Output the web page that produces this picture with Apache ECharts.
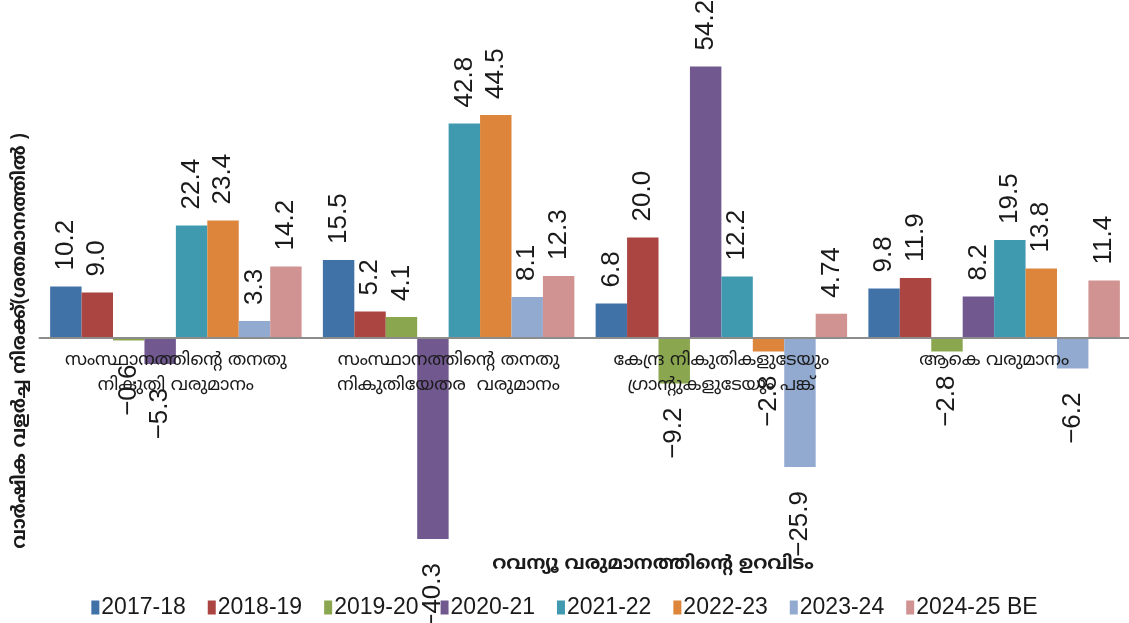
<!DOCTYPE html>
<html>
<head>
<meta charset="utf-8">
<script src="https://cdn.jsdelivr.net/npm/echarts@6/dist/echarts.min.js"></script>
<style>
html,body{margin:0;padding:0;background:#fff;}
#chart{width:1129px;height:623px;}
</style>
</head>
<body>
<div id="chart"></div>
<script>
const categories = [
  'സംസ്ഥാനത്തിന്റെ തനതു\nനികുതി വരുമാനം',
  'സംസ്ഥാനത്തിന്റെ തനതു\nനികുതിയേതര  വരുമാനം',
  'കേന്ദ്ര നികുതികളുടേയും\nഗ്രാന്റുകളുടേയും പങ്ക്',
  'ആകെ വരുമാനം'
];
const seriesNames = ['2017-18','2018-19','2019-20','2020-21','2021-22','2022-23','2023-24','2024-25 BE'];
const v2017_18 = [10.2, 15.5, 6.8, 9.8];
const v2018_19 = [9.0, 5.2, 20.0, 11.9];
const v2019_20 = [-0.6, 4.1, -9.2, -2.8];
const v2020_21 = [-5.3, -40.3, 54.2, 8.2];
const v2021_22 = [22.4, 42.8, 12.2, 19.5];
const v2022_23 = [23.4, 44.5, -2.8, 13.8];
const v2023_24 = [3.3, 8.1, -25.9, -6.2];
const v2024_25 = [14.2, 12.3, 4.74, 11.4];
const yAxisTitle = 'വാർഷിക വളർച്ച നിരക്ക്(ശതമാനത്തിൽ )';
const xAxisTitle = 'റവന്യൂ വരുമാനത്തിന്റെ ഉറവിടം';

const allValues = [v2017_18, v2018_19, v2019_20, v2020_21, v2021_22, v2022_23, v2023_24, v2024_25];
const colors = ['#4072A8','#AA4542','#8AA74F','#71598F','#3F9AB0','#DC853B','#93AAD0','#D09392'];
const mlFont = "'Noto Sans Malayalam','Manjari','Noto Sans','DejaVu Sans',sans-serif";
const numFont = "'Liberation Sans Narrow','Arial Narrow','Liberation Sans',Arial,sans-serif";

function fmt(v){
  const t = v*10;
  const s = Math.abs(t - Math.round(t)) < 1e-9 ? v.toFixed(1) : String(v);
  return s.replace('-', '\u2212');
}

const series = seriesNames.map((name, i) => ({
  name: name,
  type: 'bar',
  barGap: '0%',
  barCategoryGap: '7.8%',
  itemStyle: { color: colors[i] },
  label: {
    show: true,
    rotate: 90,
    position: 'top',
    distance: 16,
    align: 'left',
    verticalAlign: 'middle',
    fontFamily: numFont,
    fontSize: 26,
    color: '#1a1a1a',
    formatter: p => fmt(p.value)
  },
  data: allValues[i].map(v => v < 0
    ? { value: v, label: { position: 'bottom', align: 'right', distance: 24 } }
    : { value: v })
}));

const yMin = -50, yMax = 60, gridTop = 37.5, gridHeight = 550;
const zeroOffset = gridHeight * (0 - yMin) / (yMax - yMin);

const chart = echarts.init(document.getElementById('chart'), null, { renderer: 'canvas' });
chart.setOption({
  animation: false,
  backgroundColor: '#ffffff',
  grid: { left: 39.5, width: 1091, top: gridTop, height: gridHeight, containLabel: false, outerBoundsMode: 'none' },
  xAxis: {
    type: 'category',
    data: categories,
    position: 'bottom',
    offset: -zeroOffset,
    z: 5,
    axisLine: { show: true, onZero: false, lineStyle: { color: '#8c8c8c', width: 2 } },
    axisTick: { show: false },
    axisLabel: {
      interval: 0,
      margin: 12,
      fontFamily: mlFont,
      fontSize: 18,
      lineHeight: 25,
      color: '#1a1a1a'
    }
  },
  yAxis: {
    type: 'value',
    min: yMin,
    max: yMax,
    interval: 10,
    axisLine: { show: false },
    axisTick: { show: false },
    axisLabel: { show: false },
    splitLine: { show: false }
  },
  legend: {
    bottom: -1,
    left: 'center',
    itemWidth: 8,
    itemHeight: 14,
    itemGap: 22,
    icon: 'rect',
    textStyle: { fontFamily: "'Liberation Sans',Arial,sans-serif", fontSize: 23, color: '#1a1a1a', padding: [0,0,0,-3] },
    data: seriesNames
  },
  graphic: [
    {
      type: 'text',
      x: 653, y: 565,
      style: { text: xAxisTitle, font: 'bold 19px ' + mlFont, fill: '#1a1a1a', textAlign: 'center', textVerticalAlign: 'middle' }
    },
    {
      type: 'text',
      x: 21, y: 341,
      rotation: Math.PI / 2,
      style: { text: yAxisTitle, font: 'bold 18.5px ' + mlFont, fill: '#1a1a1a', textAlign: 'center', textVerticalAlign: 'middle' }
    }
  ],
  series: series
});
</script>
</body>
</html>
